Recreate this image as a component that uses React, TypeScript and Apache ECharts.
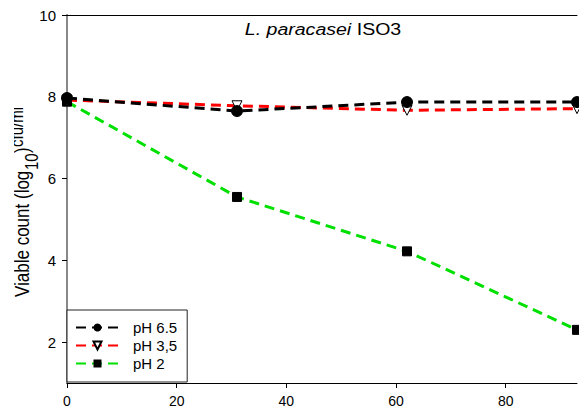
import React, { useEffect, useRef } from "react";
import * as echarts from "echarts";

const timePoints = [0, 31, 62, 93];
const seriesNames = ["pH 6.5", "pH 3,5", "pH 2"];
const ph65 = [7.97, 7.65, 7.87, 7.87];
const ph35 = [7.92, 7.78, 7.67, 7.71];
const ph2 = [7.88, 5.55, 4.22, 2.3];
const xTicks = [0, 20, 40, 60, 80];
const yTicks = [2, 4, 6, 8, 10];

const pairs = (vals: number[]) => timePoints.map((t, i) => [t, vals[i]]);

export default function App() {
  const ref = useRef<HTMLDivElement>(null);
  useEffect(() => {
    if (!ref.current) return;
    const chart = echarts.init(ref.current, null, { renderer: "svg" });
    const font = "Liberation Sans, Arial, sans-serif";
    const dash = [10, 6];
    chart.setOption({
      animation: false,
      backgroundColor: "#ffffff",
      textStyle: { fontFamily: font },
      grid: { left: 67, top: 15, right: 2, bottom: 29, containLabel: false },
      legend: {
        orient: "vertical",
        left: 67,
        top: 310,
        data: seriesNames,
        backgroundColor: "#fff",
        borderColor: "#222",
        borderWidth: 1,
        borderRadius: 0,
        padding: [10, 10, 11, 8],
        itemWidth: 43,
        itemHeight: 10,
        itemGap: 3,
        textStyle: { fontSize: 15, color: "#000", fontFamily: font, padding: [0, 0, 0, 9] },
      },
      xAxis: [
        {
          type: "value",
          min: 0,
          max: 93,
          splitLine: { show: false },
          axisLine: { lineStyle: { color: "#000", width: 1 } },
          axisTick: { show: true, length: 5, customValues: xTicks, lineStyle: { color: "#000" } },
          axisLabel: { customValues: xTicks, fontSize: 14, color: "#000", margin: 11, fontFamily: font },
        },
        {
          type: "value",
          position: "top",
          min: 0,
          max: 93,
          splitLine: { show: false },
          axisLine: { show: true, lineStyle: { color: "#000", width: 1 } },
          axisTick: { show: false },
          axisLabel: { show: false },
        },
      ],
      yAxis: [
        {
          type: "value",
          min: 1,
          max: 10,
          splitLine: { show: false },
          axisLine: { show: true, lineStyle: { color: "#000", width: 1 } },
          axisTick: { show: true, length: 5, customValues: yTicks, lineStyle: { color: "#000" } },
          axisLabel: { customValues: yTicks, fontSize: 15, color: "#000", margin: 11, fontFamily: font },
        },
        {
          type: "value",
          position: "right",
          min: 1,
          max: 10,
          splitLine: { show: false },
          axisLine: { show: true, lineStyle: { color: "#888", width: 2 } },
          axisTick: { show: false },
          axisLabel: { show: false },
        },
      ],
      series: [
        {
          name: seriesNames[2],
          type: "line",
          data: pairs(ph2),
          symbol: "rect",
          symbolSize: 9,
          lineStyle: { color: "#00e000", width: 3, type: dash },
          itemStyle: { color: "#000", borderColor: "#000" },
          z: 2,
        },
        {
          name: seriesNames[1],
          type: "line",
          data: pairs(ph35),
          symbol: "triangle",
          symbolRotate: 180,
          symbolSize: 10,
          lineStyle: { color: "#ff0000", width: 3, type: dash },
          itemStyle: { color: "#fff", borderColor: "#000", borderWidth: 1 },
          z: 3,
        },
        {
          name: seriesNames[0],
          type: "line",
          data: pairs(ph65),
          symbol: "circle",
          symbolSize: 11,
          lineStyle: { color: "#000", width: 3, type: dash },
          itemStyle: { color: "#000", borderColor: "#000" },
          z: 4,
        },
      ],
      graphic: [
        {
          type: "text",
          x: 323,
          y: 29,
          scaleX: 1.15,
          style: {
            text: "{i|L. paracasei} ISO3",
            fontSize: 17,
            fontFamily: font,
            fill: "#000",
            align: "center",
            verticalAlign: "middle",
            rich: { i: { fontStyle: "italic", fontSize: 17, fontFamily: font, fill: "#000" } },
          },
        },
        {
          type: "group",
          x: 29,
          y: 297,
          rotation: Math.PI / 2,
          scaleY: 1.17,
          children: [
            {
              type: "text",
              x: 0,
              y: -6,
              style: { text: "Viable count (log", fontSize: 17, fontFamily: font, fill: "#000", verticalAlign: "middle" },
            },
            {
              type: "text",
              x: 127,
              y: 2,
              style: { text: "10", fontSize: 15, fontFamily: font, fill: "#000", verticalAlign: "middle" },
            },
            {
              type: "text",
              x: 144,
              y: -6,
              style: { text: ")", fontSize: 17, fontFamily: font, fill: "#000", verticalAlign: "middle" },
            },
            {
              type: "text",
              x: 150,
              y: -11,
              style: { text: "cfu/ml", fontSize: 15, fontFamily: font, fill: "#000", verticalAlign: "middle" },
            },
          ],
        },
        {
          type: "rect",
          shape: { x: 0, y: 60, width: 14, height: 260 },
          style: { fill: "#fff" },
          z: 100,
        },
      ],
    });
    return () => chart.dispose();
  }, []);
  return (
    <div
      ref={ref}
      style={{ position: "fixed", left: 0, top: 0, width: 579, height: 412 }}
    />
  );
}
